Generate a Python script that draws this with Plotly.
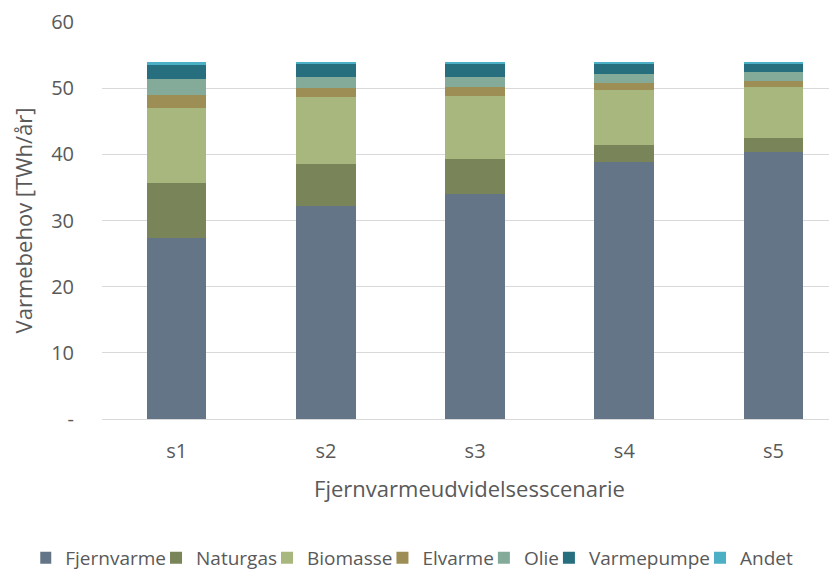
import plotly.graph_objects as go

categories = ["s1", "s2", "s3", "s4", "s5"]
fjernvarme = [27.4, 32.2, 34.05, 38.8, 40.4]
naturgas = [8.3, 6.3, 5.3, 2.65, 2.0]
biomasse = [11.3, 10.1, 9.5, 8.2, 7.8]
elvarme = [2.0, 1.4, 1.4, 1.15, 0.9]
olie = [2.4, 1.7, 1.5, 1.35, 1.3]
varmepumpe = [2.1, 2.05, 2.0, 1.55, 1.4]
andet = [0.4, 0.2, 0.2, 0.25, 0.2]

series = [
    ("Fjernvarme", fjernvarme, "#637587"),
    ("Naturgas", naturgas, "#7a8459"),
    ("Biomasse", biomasse, "#a8b77e"),
    ("Elvarme", elvarme, "#9c8e54"),
    ("Olie", olie, "#84ab9a"),
    ("Varmepumpe", varmepumpe, "#276f7f"),
    ("Andet", andet, "#4bafc6"),
]

ytickvals = [0, 10, 20, 30, 40, 50, 60]
yticktext = ["-", "10", "20", "30", "40", "50", "60"]

fig = go.Figure()
for name, vals, color in series:
    fig.add_trace(go.Bar(x=categories, y=vals, name=name,
                         marker=dict(color=color, line=dict(width=0)),
                         width=0.4))

font_family = "Open Sans, Noto Sans, sans-serif"
gray = "#595959"
W, H = 829, 562  # page body has an 8px margin
fig.update_layout(
    barmode="stack",
    width=W, height=H,
    margin=dict(l=94, r=0, t=14, b=151, autoexpand=False),
    paper_bgcolor="white", plot_bgcolor="white",
    font=dict(family=font_family, color=gray, size=20),
    showlegend=True,
    legend=dict(orientation="h", x=-0.084, xanchor="left",
                y=-0.35, yanchor="middle",
                font=dict(size=19, color=gray), traceorder="normal",
                itemwidth=30, indentation=-15, tracegroupgap=0),
    xaxis=dict(range=[-0.5, 4.425], showgrid=False, showline=False,
               ticks="", ticklabelstandoff=18,
               tickfont=dict(size=20, color=gray),
               title=dict(text="Fjernvarmeudvidelsesscenarie",
                          font=dict(size=22, color=gray), standoff=18)),
    yaxis=dict(range=[0, 60], tickvals=ytickvals, ticktext=yticktext,
               showgrid=True, gridcolor="#d9d9d9", gridwidth=1.3,
               zeroline=True, zerolinecolor="#d9d9d9", zerolinewidth=1.3,
               showline=False, ticks="", ticklabelstandoff=27,
               tickfont=dict(size=20, color=gray),
               title=dict(text="Varmebehov [TWh/år]",
                          font=dict(size=22, color=gray), standoff=16)),
)

fig.write_html("out.html")
